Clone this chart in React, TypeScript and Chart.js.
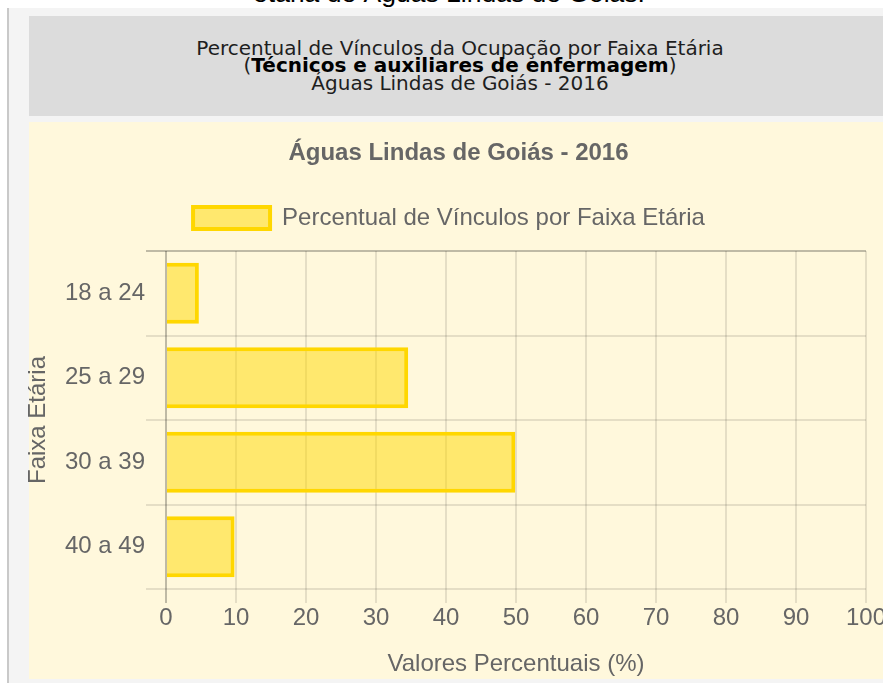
import React, { useEffect, useRef } from 'react';
import { Chart, registerables } from 'chart.js';

Chart.register(...registerables);

// ---- data ----
const categories = ['18 a 24', '25 a 29', '30 a 39', '40 a 49'];
const values = [4.7, 34.6, 49.9, 9.8];
const seriesLabel = 'Percentual de Vínculos por Faixa Etária';
const chartTitle = 'Águas Lindas de Goiás - 2016';
const xAxisTitle = 'Valores Percentuais (%)';
const yAxisTitle = 'Faixa Etária';
const xMin = 0;
const xMax = 100;
const xStep = 10;

const pageCaption = 'etária de Águas Lindas de Goiás.';
const headerLine1 = 'Percentual de Vínculos da Ocupação por Faixa Etária';
const headerLine2 = 'Técnicos e auxiliares de enfermagem';
const headerLine3 = 'Águas Lindas de Goiás - 2016';

// ---- styles ----
const FONT = "'Liberation Sans', Arial, Helvetica, sans-serif";
const TEXT = '#666';
const GRID = 'rgba(0,0,0,0.1)';
const ZERO = 'rgba(0,0,0,0.25)';

export default function App() {
  const ref = useRef<HTMLCanvasElement | null>(null);

  useEffect(() => {
    const canvas = ref.current;
    if (!canvas) return;

    const tweak = {
      id: 'layoutTweak',
      beforeLayout(chart: any) {
        const lg = chart.legend;
        if (lg && !lg.__patched) {
          const fit = lg.fit;
          lg.fit = function () {
            fit.call(this);
            this.height += 11;
          };
          lg.__patched = true;
        }
      },
      afterLayout(chart: any) {
        const lg = chart.legend;
        if (lg) {
          lg.left -= 4.5;
          lg.right -= 4.5;
        }
        const tb = chart.titleBlock;
        if (tb) {
          tb.left += 5;
          tb.right += 5;
        }
      },
    };

    const chart = new Chart(canvas, {
      type: 'bar',
      data: {
        labels: categories,
        datasets: [
          {
            label: seriesLabel,
            data: values,
            backgroundColor: 'rgba(255, 215, 0, 0.5)',
            borderColor: '#ffd700',
            borderWidth: 4,
          },
        ],
      },
      plugins: [tweak],
      options: {
        indexAxis: 'y',
        responsive: false,
        animation: false,
        layout: { padding: 0 },
        plugins: {
          title: {
            display: true,
            text: chartTitle,
            color: TEXT,
            font: { family: FONT, size: 24, weight: 'bold' },
            padding: { top: 17, bottom: 28.2 },
          },
          legend: {
            display: true,
            position: 'top',
            labels: {
              color: TEXT,
              font: { family: FONT, size: 24 },
              boxWidth: 77,
              boxHeight: 22,
              padding: 10,
            },
          },
          tooltip: { enabled: false },
        },
        scales: {
          x: {
            type: 'linear',
            min: xMin,
            max: xMax,
            ticks: {
              stepSize: xStep,
              color: TEXT,
              font: { family: FONT, size: 24 },
              padding: 1,
              maxRotation: 0,
            },
            grid: {
              color: (c: any) => (c.index === 0 ? ZERO : GRID),
              lineWidth: 2,
              tickLength: 14,
            },
            border: { display: false },
            title: {
              display: true,
              text: xAxisTitle,
              color: TEXT,
              font: { family: FONT, size: 24 },
              padding: { top: 16.4, bottom: 4 },
            },
          },
          y: {
            type: 'category',
            ticks: {
              color: TEXT,
              font: { family: FONT, size: 24 },
              padding: 1,
            },
            grid: {
              offset: true,
              color: (c: any) => (c.index === 0 ? ZERO : GRID),
              tickColor: (c: any) =>
                c.index >= categories.length ? 'rgba(0,0,0,0)' : c.index === 0 ? ZERO : GRID,
              lineWidth: 2,
              tickLength: 20,
            },
            border: { display: false },
            title: {
              display: true,
              text: yAxisTitle,
              color: TEXT,
              font: { family: FONT, size: 24 },
              padding: { top: 4, bottom: 11.1 },
            },
          },
        },
      },
    } as any);

    return () => chart.destroy();
  }, []);

  return (
    <div
      style={{
        position: 'fixed',
        left: 0,
        top: 0,
        width: 883,
        height: 683,
        overflow: 'hidden',
        background: '#ffffff',
      }}
    >
      <div
        style={{
          position: 'absolute',
          left: 0,
          top: -20,
          width: 898,
          textAlign: 'center',
          fontFamily: FONT,
          fontSize: '26.5px',
          lineHeight: '26.5px',
          whiteSpace: 'nowrap',
          color: '#000',
        }}
      >
        {pageCaption}
      </div>
      <div style={{ position: 'absolute', left: 7, top: 8, width: 2, height: 675, background: '#c9c9c9' }} />
      <div style={{ position: 'absolute', left: 9, top: 8, width: 874, height: 675, background: '#f4f4f4' }} />
      <div
        style={{
          position: 'absolute',
          left: 29,
          top: 16,
          width: 862,
          height: 100,
          background: '#dcdcdc',
        }}
      >
        <div
          style={{
            position: 'absolute',
            left: 0,
            top: 23.5,
            width: '100%',
            textAlign: 'center',
            fontFamily: "'DejaVu Sans', Verdana, sans-serif",
            fontSize: '20px',
            lineHeight: '17.5px',
            color: '#1e1e1e',
            whiteSpace: 'nowrap',
          }}
        >
          <div>{headerLine1}</div>
          <div>
            (<b style={{ color: '#000' }}>{headerLine2}</b>)
          </div>
          <div>{headerLine3}</div>
        </div>
      </div>
      <div style={{ position: 'absolute', left: 29, top: 122, width: 854, height: 557, background: '#fff8dc' }} />
      <canvas
        ref={ref}
        width={867}
        height={561}
        style={{ position: 'absolute', left: 20, top: 122, width: 867, height: 561, display: 'block' }}
      />
    </div>
  );
}
